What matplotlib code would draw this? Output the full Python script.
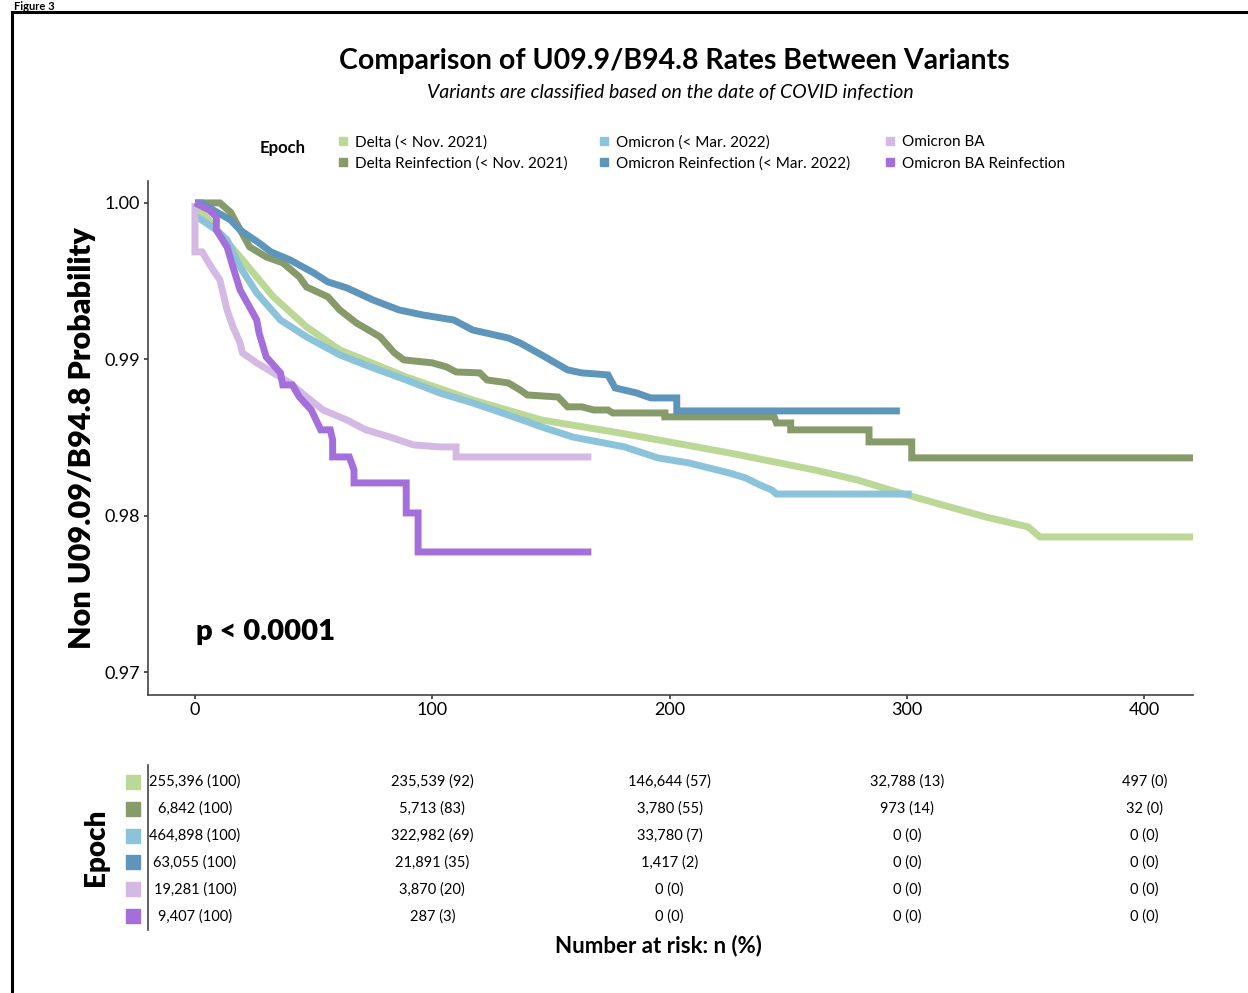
import matplotlib
matplotlib.use("Agg")
import matplotlib.pyplot as plt
from matplotlib.patches import Rectangle

plt.rcParams['font.family'] = ['Lato', 'DejaVu Sans']

# --- data ---
labels = ["Delta (< Nov. 2021)", "Delta Reinfection (< Nov. 2021)",
          "Omicron (< Mar. 2022)", "Omicron Reinfection (< Mar. 2022)",
          "Omicron BA", "Omicron BA Reinfection"]
colors = ["#bcd896", "#879a69", "#8bc3da", "#5e96bb", "#d4b9e4", "#a46fdb"]

delta_t = [0, 3, 19, 33, 47, 61, 89, 117, 146, 179, 190, 225, 261, 279, 297, 315, 333, 351, 356, 425]
delta_s = [1.0, 0.9994, 0.99655, 0.9940, 0.99208, 0.99061, 0.98888, 0.98741, 0.98613, 0.98530,
           0.98500, 0.98403, 0.98294, 0.98230, 0.98147, 0.98070, 0.97994, 0.97930, 0.97866, 0.97866]

delta_re_t = [0, 10.5, 15, 23, 30, 37, 44, 47, 56, 61, 68, 78, 84, 88, 100, 106, 110, 120, 123, 132,
              137, 140, 153, 157, 163, 168, 174, 176, 198, 198, 244, 245, 251, 251, 284, 284, 302, 302, 425]
delta_re_s = [1.0, 1.0, 0.9994, 0.99719, 0.99655, 0.99617, 0.99527, 0.99463, 0.99400, 0.99316, 0.99233,
              0.99144, 0.99042, 0.98997, 0.98978, 0.98952, 0.98920, 0.98914, 0.98869, 0.98850,
              0.98805, 0.98773, 0.98760, 0.98697, 0.98697, 0.98677, 0.98677, 0.98658, 0.98658,
              0.98633, 0.98633, 0.98594, 0.98594, 0.98550, 0.98550, 0.98473, 0.98473, 0.98371, 0.98371]

omi_t = [0, 9, 13.5, 19, 26, 36, 47, 61, 75, 89, 103, 117, 132, 146, 159, 181, 195, 208, 225,
         232, 238, 243, 245, 302]
omi_s = [0.9992, 0.99827, 0.99764, 0.99591, 0.99425, 0.99252, 0.99144, 0.99029, 0.98946, 0.98869,
         0.98786, 0.98722, 0.98645, 0.98569, 0.98505, 0.98441, 0.98371, 0.98339, 0.98275,
         0.98243, 0.98198, 0.98166, 0.98140, 0.98140]

omi_re_t = [0, 3, 7.6, 15, 19, 27, 32, 40, 50, 56, 64, 75, 86, 96, 109, 117, 132, 137, 146, 157,
            163, 174, 177, 186, 192, 203, 203, 297]
omi_re_s = [1.0, 1.0, 0.99955, 0.99891, 0.99827, 0.99744, 0.99687, 0.99636, 0.99553, 0.99495,
            0.99457, 0.99380, 0.99316, 0.99284, 0.99252, 0.99188, 0.99137, 0.99105, 0.99029,
            0.98933, 0.98914, 0.98901, 0.98818, 0.98786, 0.98754, 0.98754, 0.98671, 0.98671]

ba_t = [0, 0, 3, 7.6, 10.5, 13.5, 16, 19, 20, 26, 33, 40, 47, 54, 64, 72, 82, 92, 103, 110, 110, 167]
ba_s = [1.0, 0.99687, 0.99687, 0.99572, 0.99508, 0.99316, 0.99208, 0.99105, 0.99042, 0.98978,
        0.98914, 0.98850, 0.98760, 0.98677, 0.98613, 0.98550, 0.98505, 0.98454, 0.98441,
        0.98441, 0.98377, 0.98377]

ba_re_t = [0, 6, 9, 9, 13.5, 16, 19, 23, 26, 27, 30, 36, 37, 41, 44, 49, 53, 57, 58, 58, 65, 67,
           67, 89, 89, 94, 94, 167]
ba_re_s = [1.0, 0.99955, 0.9991, 0.99827, 0.99719, 0.99591, 0.99444, 0.99335, 0.99252, 0.99169,
           0.99016, 0.98914, 0.98837, 0.98837, 0.98760, 0.98677, 0.98550, 0.98550, 0.98486,
           0.98377, 0.98377, 0.98294, 0.98211, 0.98211, 0.98019, 0.98019, 0.97770, 0.97770]

curves = [(delta_t, delta_s), (delta_re_t, delta_re_s), (omi_t, omi_s),
          (omi_re_t, omi_re_s), (ba_t, ba_s), (ba_re_t, ba_re_s)]

risk_times = [0, 100, 200, 300, 400]
risk_table = [
    ["255,396 (100)", "235,539 (92)", "146,644 (57)", "32,788 (13)", "497 (0)"],
    ["6,842 (100)", "5,713 (83)", "3,780 (55)", "973 (14)", "32 (0)"],
    ["464,898 (100)", "322,982 (69)", "33,780 (7)", "0 (0)", "0 (0)"],
    ["63,055 (100)", "21,891 (35)", "1,417 (2)", "0 (0)", "0 (0)"],
    ["19,281 (100)", "3,870 (20)", "0 (0)", "0 (0)", "0 (0)"],
    ["9,407 (100)", "287 (3)", "0 (0)", "0 (0)", "0 (0)"],
]

W, H = 1248, 993
fig = plt.figure(figsize=(W / 100, H / 100), dpi=100)

# frame around the figure panel
fig.patches.append(Rectangle((12 / W, -0.1), 1.2, 1 - 12 / H + 0.1, transform=fig.transFigure,
                             fill=False, edgecolor="black", linewidth=2.2))
fig.text(14 / W, 1 - 1 / H, "Figure 3", fontsize=8, fontweight="bold", va="top", ha="left")

fig.text(674 / W, 1 - 61 / H, "Comparison of U09.9/B94.8 Rates Between Variants",
         fontsize=20.5, fontweight="bold", ha="center", va="center")
fig.text(670 / W, 1 - 93 / H, "Variants are classified based on the date of COVID infection",
         fontsize=14, style="italic", ha="center", va="center")

# legend
fig.text(283 / W, 1 - 148 / H, "Epoch", fontsize=12, fontweight="bold", ha="center", va="center")
leg_x = [343, 604, 890]
leg_y = [141, 162]
for i, (lab, col) in enumerate(zip(labels, colors)):
    cx = leg_x[i // 2]
    cy = leg_y[i % 2]
    fig.patches.append(Rectangle(((cx - 4) / W, 1 - (cy + 4) / H), 8 / W, 8 / H,
                                 transform=fig.transFigure, color=col))
    fig.text((cx + 12) / W, 1 - (cy + 1.5) / H, lab, fontsize=11, ha="left", va="center")

# main KM plot
ax = fig.add_axes([148 / W, 1 - 695 / H, (1193 - 148) / W, (695 - 181) / H])
for (t, s), col in zip(curves, colors):
    ax.plot(t, s, color=col, lw=5, solid_joinstyle="miter", solid_capstyle="butt")
ax.set_xlim(-19.8, 420.5)
ax.set_ylim(0.96856, 1.0014)
ax.set_xticks(risk_times)
ax.set_yticks([0.97, 0.98, 0.99, 1.00])
ax.set_yticklabels(["0.97", "0.98", "0.99", "1.00"])
ax.tick_params(axis="both", labelsize=13, length=3, width=1.2, color="#333333", pad=3)
ax.tick_params(axis="x", pad=2)
for side in ["top", "right"]:
    ax.spines[side].set_visible(False)
for side in ["left", "bottom"]:
    ax.spines[side].set_color("#444444")
    ax.spines[side].set_linewidth(1.2)
ax.set_ylabel("Non U09.09/B94.8 Probability", fontsize=22, fontweight="heavy", labelpad=6)
ax.text(0.5, 0.9726, "p < 0.0001", fontsize=21, fontweight="heavy", ha="left", va="center")

# number at risk table
tx = fig.add_axes([148 / W, 1 - 930 / H, (1193 - 148) / W, (930 - 765) / H])
tx.set_xlim(-19.8, 420.5)
tx.set_ylim(6.52, 0.37)
for r, row in enumerate(risk_table):
    for t, val in zip(risk_times, row):
        tx.text(t, r + 1, val, fontsize=10.5, ha="center", va="center")
    tx.scatter([-26], [r + 1], marker="s", s=90, color=colors[r], clip_on=False)
for side in ["top", "right", "bottom"]:
    tx.spines[side].set_visible(False)
tx.spines["left"].set_color("#444444")
tx.spines["left"].set_linewidth(1.2)
tx.set_xticks([])
tx.set_yticks([])
tx.set_ylabel("Epoch", fontsize=20, fontweight="heavy", labelpad=28)
fig.text(658 / W, 1 - 946 / H, "Number at risk: n (%)", fontsize=16, fontweight="bold",
         ha="center", va="center")

fig.savefig("out.png", dpi=100, facecolor="white")
